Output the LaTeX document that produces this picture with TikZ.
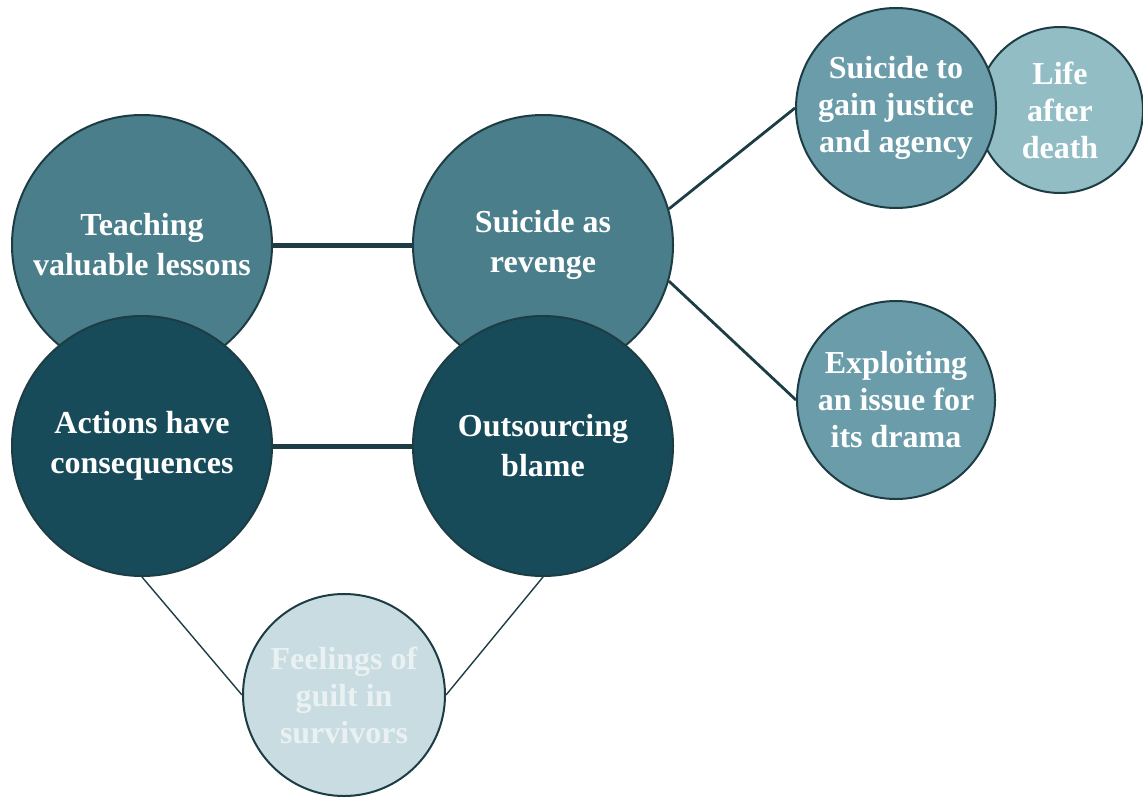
\documentclass[tikz,border=0pt]{standalone}
\usepackage{fontspec}
\setmainfont{Liberation Serif}
\usetikzlibrary{positioning}

\definecolor{edgecol}{HTML}{1D3C44}
\definecolor{midteal}{HTML}{4A7E8A}
\definecolor{darkteal}{HTML}{174B59}
\definecolor{lightteal}{HTML}{6A9DA9}
\definecolor{paleteal}{HTML}{93BDC5}
\definecolor{mistteal}{HTML}{C8DCE1}
\definecolor{misttext}{HTML}{E9F1F3}

\begin{document}
\begin{tikzpicture}[x=0.5pt, y=-0.5pt]
    \tikzset{theme/.style={circle, draw=edgecol, line width=1pt, inner sep=0pt,
        align=center, text=white, font=\bfseries\fontsize{16}{20}\selectfont},
      bigtheme/.style={theme, minimum size=130pt},
      subtheme/.style={theme, font=\bfseries\fontsize{16}{18.5}\selectfont},
      strong/.style={draw=edgecol, line width=2.5pt},
      weak/.style={draw=edgecol, line width=1.4pt},
      faint/.style={draw=edgecol, line width=0.7pt}}
    \useasboundingbox (0,0) rectangle (1143,797);
    % main themes
    \node[bigtheme, fill=midteal] (teach) at (142,245) {Teaching\\valuable lessons};
    \node[bigtheme, fill=darkteal] (act) at (142,446) {Actions have\\consequences};
    \node[bigtheme, fill=midteal] (revenge) at (543,245) {Suicide as\\revenge};
    \node[bigtheme, fill=darkteal] (blame) at (543,446) {Outsourcing\\blame};
    % side themes
    \node[subtheme, fill=paleteal, minimum size=83pt] (life) at (1060,110) {Life\\after\\death};
    \node[subtheme, fill=lightteal, minimum size=100pt] (justice) at (896,108) {Suicide to\\gain justice\\and agency};
    \node[subtheme, fill=lightteal, minimum size=99pt] (exploit) at (896,400) {Exploiting\\an issue for\\its drama};
    \node[subtheme, fill=mistteal, text=misttext, minimum size=101pt] (guilt) at (344,695) {Feelings of\\guilt in\\survivors};
    % links
    \draw[strong] (teach.east) -- (revenge.west);
    \draw[strong] (act.east) -- (blame.west);
    \draw[weak] (revenge.16) -- (justice.west);
    \draw[weak] (revenge.-16) -- (exploit.west);
    \draw[faint] (act.south) -- (guilt.west);
    \draw[faint] (blame.south) -- (guilt.east);
\end{tikzpicture}
\end{document}
